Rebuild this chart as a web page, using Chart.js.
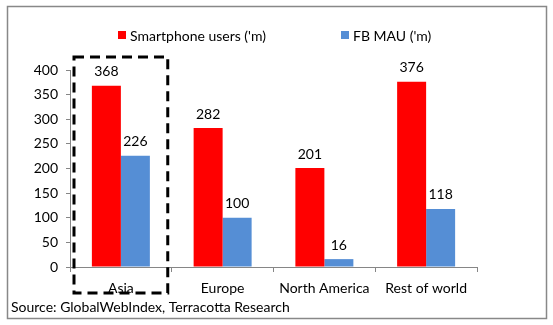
<!DOCTYPE html>
<html>
<head>
<meta charset="utf-8">
<script src="https://cdn.jsdelivr.net/npm/chart.js@4/dist/chart.umd.min.js"></script>
<style>
  html, body { margin: 0; padding: 0; background: #fff; }
  #wrap { width: 553px; height: 325px; position: relative; }
</style>
</head>
<body>
<div id="wrap"><canvas id="chart"></canvas></div>
<script>
// data
const regions = ['Asia', 'Europe', 'North America', 'Rest of world'];
const smartphoneUsers = [368, 282, 201, 376];
const fbMau = [226, 100, 16, 118];
const seriesNames = ["Smartphone users ('m)", "FB MAU ('m)"];
const yTicks = [0, 50, 100, 150, 200, 250, 300, 350, 400];
const sourceNote = 'Source: GlobalWebIndex, Terracotta Research';
const highlighted = 'Asia';

const FONT = 'Lato, "Liberation Sans", sans-serif';
const RED = '#ff0000';
const BLUE = '#558ed5';

// outer frame, source line and the legend
const framePlugin = {
  id: 'frame',
  afterDraw(chart) {
    const ctx = chart.ctx;
    ctx.save();
    ctx.strokeStyle = '#888';
    ctx.lineWidth = 1.5;
    ctx.strokeRect(7.5, 6.5, 539, 312);

    ctx.font = '14px ' + FONT;
    ctx.fillStyle = '#000';
    ctx.textBaseline = 'middle';
    ctx.textAlign = 'left';
    ctx.fillText(sourceNote, 11, 307);

    // legend
    const legendX = [118, 341];
    chart.data.datasets.forEach((ds, i) => {
      ctx.fillStyle = ds.backgroundColor;
      ctx.fillRect(legendX[i], 31, 8, 8);
      ctx.fillStyle = '#000';
      ctx.fillText(ds.label, legendX[i] + 12, 36);
    });
    ctx.restore();
  }
};

// value labels on top of each bar
const valueLabels = {
  id: 'valueLabels',
  afterDatasetsDraw(chart) {
    const ctx = chart.ctx;
    ctx.save();
    ctx.font = '14px ' + FONT;
    ctx.fillStyle = '#000';
    ctx.textAlign = 'center';
    ctx.textBaseline = 'bottom';
    chart.data.datasets.forEach((ds, i) => {
      chart.getDatasetMeta(i).data.forEach((bar, j) => {
        ctx.fillText(ds.data[j], bar.x, bar.y - 7);
      });
    });
    ctx.restore();
  }
};

// dashed box around the highlighted category
const highlightBox = {
  id: 'highlightBox',
  afterDraw(chart) {
    const x = chart.scales.x;
    const y = chart.scales.y;
    const idx = regions.indexOf(highlighted);
    const half = (x.getPixelForValue(1) - x.getPixelForValue(0)) / 2;
    const cx = x.getPixelForValue(idx);
    const ctx = chart.ctx;
    ctx.save();
    ctx.strokeStyle = '#000';
    ctx.lineWidth = 3;
    ctx.setLineDash([10, 6]);
    ctx.strokeRect(cx - half + 4, y.top - 13, 2 * half - 8, y.bottom - y.top + 39);
    ctx.restore();
  }
};

new Chart(document.getElementById('chart'), {
  type: 'bar',
  data: {
    labels: regions,
    datasets: [
      { label: seriesNames[0], data: smartphoneUsers, backgroundColor: RED },
      { label: seriesNames[1], data: fbMau, backgroundColor: BLUE }
    ]
  },
  options: {
    responsive: true,
    maintainAspectRatio: false,
    animation: false,
    datasets: { bar: { categoryPercentage: 0.57, barPercentage: 1 } },
    layout: { padding: { left: 10, right: 76, top: 70, bottom: 0 } },
    plugins: { legend: { display: false }, tooltip: { enabled: false } },
    scales: {
      x: {
        grid: { display: true, drawOnChartArea: false, offset: true, color: '#868686', tickLength: 5 },
        border: { color: '#868686' },
        ticks: { color: '#000', font: { family: FONT, size: 14 }, padding: 8 },
        afterFit(s) { s.height = 58; }
      },
      y: {
        min: 0, max: 400,
        afterBuildTicks(s) { s.ticks = yTicks.map(v => ({ value: v })); },
        grid: { display: true, drawOnChartArea: false, color: '#868686', tickLength: 4 },
        border: { color: '#868686' },
        ticks: { color: '#000', font: { family: FONT, size: 14 }, padding: 8 },
        afterFit(s) { s.width = 60; }
      }
    }
  },
  plugins: [framePlugin, valueLabels, highlightBox]
});
</script>
</body>
</html>
